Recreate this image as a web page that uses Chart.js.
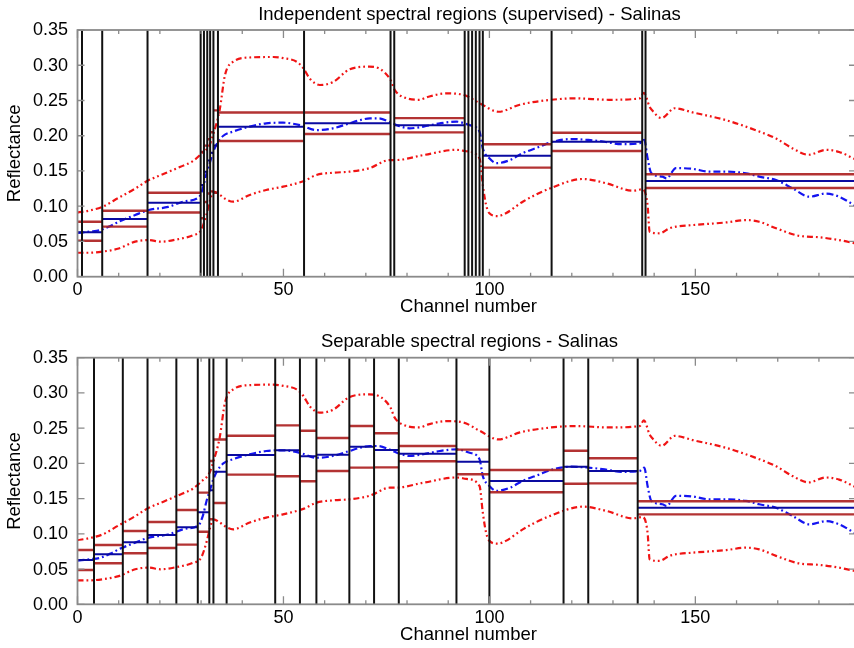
<!DOCTYPE html>
<html>
<head>
<meta charset="utf-8">
<script src="https://cdn.jsdelivr.net/npm/chart.js@4/dist/chart.umd.min.js"></script>
<style>
  html, body { margin: 0; padding: 0; background: #fff; overflow: hidden; width: 854px; height: 648px; }
  .panel { position: absolute; left: 0; }
</style>
</head>
<body>
<div class="panel" style="top:0"><canvas id="supervised" width="870" height="320"></canvas></div>
<div class="panel" style="top:320px"><canvas id="separable" width="870" height="328"></canvas></div>
<script>
// ---- Salinas reflectance statistics per channel ----
const meanX  = [0, 3, 5.5, 8, 10, 14, 17.3, 22, 26, 29.5, 30.5, 31.3, 32.2, 33, 34, 35.4, 37.8, 41.8, 45.8, 49.9, 54, 58, 62, 66, 68.5, 71, 73, 76, 78, 80.6, 84, 88, 92, 95.2, 97.6, 98.4, 100, 101.7, 105, 108, 112, 115.4, 120, 124, 128, 132, 136.4, 137.6, 138.4, 139.3, 142, 143, 145.3, 149.4, 153.4, 157.5, 162.3, 165.5, 169.6, 173.6, 177.7, 181.7, 184.9, 189];
const meanY  = [0.062, 0.064, 0.066, 0.072, 0.078, 0.0875, 0.0946, 0.099, 0.107, 0.113, 0.127, 0.146, 0.163, 0.178, 0.190, 0.200, 0.206, 0.213, 0.2176, 0.2185, 0.215, 0.208, 0.2105, 0.2176, 0.222, 0.2247, 0.2247, 0.219, 0.214, 0.2105, 0.213, 0.2176, 0.220, 0.215, 0.206, 0.182, 0.168, 0.161, 0.1655, 0.175, 0.184, 0.1915, 0.1953, 0.194, 0.1915, 0.188, 0.189, 0.194, 0.168, 0.147, 0.142, 0.1395, 0.154, 0.153, 0.149, 0.149, 0.1467, 0.142, 0.137, 0.1254, 0.1135, 0.118, 0.1135, 0.100];

const upperX = [0, 3, 6, 10, 14, 17, 21, 25, 28, 30, 32, 33, 34.5, 35.8, 37.8, 41.8, 47.5, 50, 53.2, 54.8, 56.4, 58.8, 62, 66, 70.8, 73, 76, 77, 80, 83, 85, 89.6, 93.7, 97.7, 102.2, 107.4, 115, 121, 129, 136.5, 137.5, 138.9, 139.5, 141.8, 145, 149.4, 157.5, 165.5, 169.6, 173.6, 177.5, 181.7, 184.9, 189];
const upperY = [0.091, 0.094, 0.099, 0.112, 0.125, 0.136, 0.146, 0.156, 0.164, 0.174, 0.186, 0.203, 0.236, 0.286, 0.305, 0.311, 0.3117, 0.310, 0.305, 0.296, 0.281, 0.272, 0.276, 0.294, 0.298, 0.296, 0.279, 0.265, 0.253, 0.251, 0.255, 0.260, 0.258, 0.246, 0.234, 0.244, 0.251, 0.253, 0.251, 0.253, 0.261, 0.241, 0.236, 0.225, 0.239, 0.233, 0.222, 0.206, 0.196, 0.182, 0.173, 0.180, 0.177, 0.166];

const lowerX = [0, 3, 6, 10, 14, 17.3, 20.2, 24.2, 28.1, 30, 31.4, 32.2, 33, 34.6, 36, 37.8, 41.8, 45.8, 49.9, 55, 58, 62, 66, 70.8, 75.8, 77.2, 84, 92, 94.4, 97.6, 98.4, 99.2, 100, 102, 104, 108.1, 115, 122.7, 128.4, 134.8, 137.2, 138.4, 138.9, 141.3, 143.7, 145.3, 149.4, 157.5, 162.3, 165.5, 169.6, 175.2, 180, 184.9, 189];
const lowerY = [0.034, 0.034, 0.0355, 0.040, 0.0497, 0.052, 0.0497, 0.053, 0.059, 0.066, 0.090, 0.109, 0.1206, 0.116, 0.110, 0.1064, 0.116, 0.123, 0.1277, 0.1358, 0.1443, 0.1475, 0.149, 0.1538, 0.1655, 0.1655, 0.1726, 0.180, 0.178, 0.168, 0.130, 0.1017, 0.090, 0.086, 0.090, 0.1064, 0.126, 0.1386, 0.1325, 0.122, 0.124, 0.1017, 0.0638, 0.0616, 0.0687, 0.071, 0.0733, 0.077, 0.0804, 0.078, 0.0687, 0.058, 0.056, 0.052, 0.047];

// ---- Independent (supervised) regions ----
const supBounds = [1.1, 6, 17, 29.9, 30.7, 31.5, 32.2, 33.0, 34.1, 55, 76, 76.9, 94.0, 94.9, 95.8, 96.7, 97.6, 98.4, 115.1, 137.1, 137.9];
const supStart  = [0, 6, 17, 29.9, 30.7, 31.5, 32.2, 33.0, 34.1, 55, 76.9, 98.4, 115.1, 137.9];
const supEnd    = [6, 17, 29.9, 30.7, 31.5, 32.2, 33.0, 34.1, 55, 76, 94.0, 115.1, 137.1, 189];
const supMean   = [0.063, 0.082, 0.105, 0.130, 0.149, 0.165, 0.176, 0.186, 0.2128, 0.2176, 0.215, 0.1717, 0.1915, 0.1358];
const supHigh   = [0.078, 0.0935, 0.119, 0.177, 0.186, 0.195, 0.205, 0.236, 0.233, 0.233, 0.225, 0.188, 0.2043, 0.1453];
const supLow    = [0.051, 0.071, 0.091, 0.083, 0.106, 0.118, 0.121, 0.119, 0.1925, 0.2024, 0.2048, 0.1547, 0.1783, 0.1258];

// ---- Separable regions ----
const sepBounds = [4, 11, 17, 24, 29.2, 32, 33, 36.2, 48, 54, 58, 66, 72, 78, 92, 100, 118, 124, 136];
const sepStart  = [0, 4, 11, 17, 24, 29.2, 32, 33, 36.2, 48, 54, 58, 66, 72, 78, 92, 100, 118, 124, 136];
const sepEnd    = [4, 11, 17, 24, 29.2, 32, 33, 36.2, 48, 54, 58, 66, 72, 78, 92, 100, 118, 124, 136, 189];
const sepMean   = [0.0629, 0.071, 0.088, 0.0984, 0.1093, 0.1306, 0.162, 0.188, 0.2119, 0.2186, 0.210, 0.2123, 0.2237, 0.219, 0.2138, 0.2024, 0.175, 0.1953, 0.1892, 0.1371];
const sepHigh   = [0.0771, 0.0842, 0.104, 0.1168, 0.1338, 0.1585, 0.2034, 0.234, 0.2393, 0.254, 0.2464, 0.236, 0.253, 0.2427, 0.2247, 0.2195, 0.1906, 0.218, 0.2072, 0.1462];
const sepLow    = [0.0487, 0.0582, 0.0724, 0.080, 0.0847, 0.103, 0.1207, 0.1438, 0.184, 0.1817, 0.1746, 0.1892, 0.194, 0.1944, 0.203, 0.1845, 0.159, 0.171, 0.1717, 0.1277];

// ---- axes ----
const X_MIN = 0, X_MAX = 189;
const Y_MIN = 0, Y_MAX = 0.35;
const xTickValues = [0, 50, 100, 150];
const xTickLabels = ['0', '50', '100', '150'];
const xMinorTicks = [10, 20, 30, 40, 60, 70, 80, 90, 110, 120, 130, 140, 160, 170, 180];
const yTickValues = [0, 0.05, 0.10, 0.15, 0.20, 0.25, 0.30, 0.35];
const yTickLabels = ['0.00', '0.05', '0.10', '0.15', '0.20', '0.25', '0.30', '0.35'];

const FONT = '"Liberation Sans", Arial, Helvetica, sans-serif';

function toPoints(xs, ys) { return xs.map((x, i) => ({ x, y: ys[i] })); }

function verticalLines(bounds) {
  const pts = [];
  bounds.forEach(b => { pts.push({ x: b, y: Y_MIN }, { x: b, y: Y_MAX }, { x: b, y: null }); });
  return pts;
}

function steps(starts, ends, vals) {
  const pts = [];
  starts.forEach((s, i) => { pts.push({ x: s, y: vals[i] }, { x: ends[i], y: vals[i] }, { x: ends[i], y: null }); });
  return pts;
}

// frame, inward ticks, tick labels and titles
const axesDecor = {
  id: 'axesDecor',
  afterDatasetsDraw(chart, args, opts) {
    const { ctx, chartArea: a, scales: { x, y } } = chart;
    ctx.save();
    ctx.strokeStyle = '#8a8a8a';
    ctx.lineWidth = 1.8;
    ctx.strokeRect(a.left, a.top, a.right - a.left, a.bottom - a.top);

    ctx.lineWidth = 1.3;
    ctx.beginPath();
    const xTick = (v, len) => {
      const px = x.getPixelForValue(v);
      ctx.moveTo(px, a.bottom); ctx.lineTo(px, a.bottom - len);
      ctx.moveTo(px, a.top); ctx.lineTo(px, a.top + len);
    };
    xTickValues.forEach(v => xTick(v, 8));
    xMinorTicks.forEach(v => xTick(v, 4));
    yTickValues.forEach(v => {
      const py = y.getPixelForValue(v);
      ctx.moveTo(a.left, py); ctx.lineTo(a.left + 7, py);
      ctx.moveTo(a.right, py); ctx.lineTo(a.right - 7, py);
    });
    ctx.stroke();

    ctx.fillStyle = '#000';
    ctx.font = '18px ' + FONT;
    ctx.textBaseline = 'middle';
    ctx.textAlign = 'right';
    yTickValues.forEach((v, i) => ctx.fillText(yTickLabels[i], a.left - 9.5, y.getPixelForValue(v) + 0.5));
    ctx.textAlign = 'center';
    xTickValues.forEach((v, i) => ctx.fillText(xTickLabels[i], x.getPixelForValue(v), a.bottom + 13.5));

    ctx.font = '18.5px ' + FONT;
    ctx.fillText(opts.xTitle, 468.5, a.bottom + 30.5);
    ctx.fillText(opts.title, 469.5, a.top - 15.5);
    ctx.save();
    ctx.translate(14.5, (a.top + a.bottom) / 2);
    ctx.rotate(-Math.PI / 2);
    ctx.fillText(opts.yTitle, 0, 0);
    ctx.restore();
    ctx.restore();
  }
};

function buildChart(canvasId, title, bounds, starts, ends, means, highs, lows, padTop, padBottom) {
  const red = 'rgb(240,20,20)';
  const blue = 'rgb(20,20,240)';
  const segRed = 'rgba(172,34,34,0.92)';
  const segBlue = 'rgb(10,10,160)';
  const curve = (data, color, dash) => ({
    data, borderColor: color, borderWidth: 2.2, borderDash: dash, borderCapStyle: 'butt',
    pointRadius: 0, cubicInterpolationMode: 'monotone', fill: false
  });
  const flat = (data, color, width) => ({
    data, borderColor: color, borderWidth: width, pointRadius: 0, spanGaps: false, fill: false, tension: 0
  });
  return new Chart(document.getElementById(canvasId), {
    type: 'line',
    data: {
      datasets: [
        flat(verticalLines(bounds), '#111', 2.0),
        flat(steps(starts, ends, highs), segRed, 2.4),
        flat(steps(starts, ends, lows), segRed, 2.4),
        flat(steps(starts, ends, means), segBlue, 2.0),
        curve(toPoints(upperX, upperY), red, [6, 3, 1.8, 3, 1.8, 3]),
        curve(toPoints(lowerX, lowerY), red, [6, 3, 1.8, 3, 1.8, 3]),
        curve(toPoints(meanX, meanY), blue, [7, 3, 1.8, 3])
      ]
    },
    options: {
      responsive: false,
      animation: false,
      events: [],
      layout: { padding: { left: 77.5, right: 870 - 856, top: padTop, bottom: padBottom } },
      scales: {
        x: { type: 'linear', min: X_MIN, max: X_MAX, display: false },
        y: { type: 'linear', min: Y_MIN, max: Y_MAX, display: false }
      },
      plugins: {
        legend: { display: false },
        tooltip: { enabled: false },
        axesDecor: { title, xTitle: 'Channel number', yTitle: 'Reflectance' }
      }
    },
    plugins: [axesDecor]
  });
}

buildChart('supervised', 'Independent spectral regions (supervised) - Salinas',
  supBounds, supStart, supEnd, supMean, supHigh, supLow, 30, 320 - 276.7);
buildChart('separable', 'Separable spectral regions - Salinas',
  sepBounds, sepStart, sepEnd, sepMean, sepHigh, sepLow, 37.7, 328 - 284.3);
</script>
</body>
</html>
